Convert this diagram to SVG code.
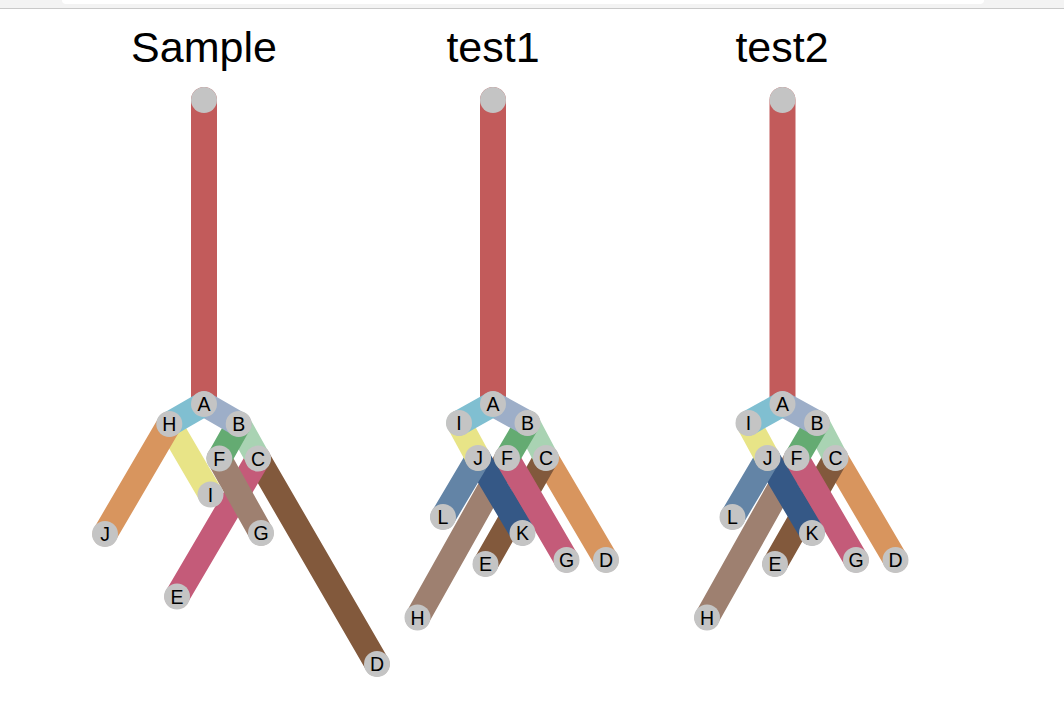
<svg xmlns="http://www.w3.org/2000/svg" width="1064" height="701" viewBox="0 0 1064 701">
<defs>
<style>
.title{font-family:"Liberation Sans",Arial,sans-serif;font-size:43px;fill:#000;text-anchor:middle}
.lbl{font-family:"Liberation Sans",Arial,sans-serif;font-size:19.5px;fill:#000;text-anchor:middle;dominant-baseline:central}
.node circle{fill:#c4c4c4}
.lk{fill:none;stroke-width:25;stroke-linecap:round}
.stem{stroke:#c25b5b;stroke-width:26}
.c-blue{stroke:#80bfd1}
.c-lav{stroke:#9daec8}
.c-orange{stroke:#d8955e}
.c-yellow{stroke:#e8e487}
.c-green{stroke:#64ab72}
.c-lgreen{stroke:#a9d3b3}
.c-taupe{stroke:#9e8070}
.c-pink{stroke:#c45b79}
.c-brown{stroke:#82593c}
.c-steel{stroke:#6384a6}
.c-dblue{stroke:#355886}
</style>
</defs>
<rect x="0" y="0" width="1064" height="701" fill="#ffffff"/>
<g id="browser-bar">
<rect x="0" y="0" width="1064" height="8" fill="#f3f3f3"/>
<rect x="62" y="-6" width="922" height="10" rx="4" fill="#ffffff"/>
<line x1="0" y1="8.5" x2="1064" y2="8.5" stroke="#c9c9c9" stroke-width="1"/>
</g>

<text class="title" x="204" y="62">Sample</text>
<text class="title" x="493" y="62">test1</text>
<text class="title" x="782" y="62">test2</text>

<!-- Sample tree -->
<g id="sample" transform="translate(204,404)">
<g id="sample-connectors">
<line class="lk stem" x1="0" y1="-304" x2="0" y2="0"/>
<line class="lk c-brown" x1="54" y1="54.5" x2="173" y2="260"/>
<line class="lk c-pink" x1="54" y1="54.5" x2="-27" y2="192.5"/>
<line class="lk c-taupe" x1="15.3" y1="54.5" x2="57" y2="129"/>
<line class="lk c-lgreen" x1="34.7" y1="20" x2="54" y2="54.5"/>
<line class="lk c-green" x1="34.7" y1="20" x2="15.3" y2="54.5"/>
<line class="lk c-yellow" x1="-34.7" y1="20" x2="6.5" y2="90.5"/>
<line class="lk c-orange" x1="-34.7" y1="20" x2="-99" y2="130"/>
<line class="lk c-lav" x1="0" y1="0" x2="34.7" y2="20"/>
<line class="lk c-blue" x1="0" y1="0" x2="-34.7" y2="20"/>
</g>
<g id="sample-root" class="node"><circle cx="0" cy="-304" r="13"/></g>
<g id="sample-A" class="node"><circle cx="0" cy="0" r="13"/><text class="lbl" x="0" y="0">A</text></g>
<g id="sample-H" class="node"><circle cx="-34.7" cy="20" r="13"/><text class="lbl" x="-34.7" y="20">H</text></g>
<g id="sample-B" class="node"><circle cx="34.7" cy="20" r="13"/><text class="lbl" x="34.7" y="20">B</text></g>
<g id="sample-F" class="node"><circle cx="15.3" cy="54.5" r="13"/><text class="lbl" x="15.3" y="54.5">F</text></g>
<g id="sample-C" class="node"><circle cx="54" cy="54.5" r="13"/><text class="lbl" x="54" y="54.5">C</text></g>
<g id="sample-I" class="node"><circle cx="6.5" cy="90.5" r="13"/><text class="lbl" x="6.5" y="90.5">I</text></g>
<g id="sample-J" class="node"><circle cx="-99" cy="130" r="13"/><text class="lbl" x="-99" y="130">J</text></g>
<g id="sample-G" class="node"><circle cx="57" cy="129" r="13"/><text class="lbl" x="57" y="129">G</text></g>
<g id="sample-E" class="node"><circle cx="-27" cy="192.5" r="13"/><text class="lbl" x="-27" y="192.5">E</text></g>
<g id="sample-D" class="node"><circle cx="173" cy="260" r="13"/><text class="lbl" x="173" y="260">D</text></g>
</g>

<!-- test1 tree -->
<g id="test1" transform="translate(493,404)">
<g id="test1-connectors">
<line class="lk stem" x1="0" y1="-304" x2="0" y2="0"/>
<line class="lk c-orange" x1="53" y1="54" x2="113" y2="156"/>
<line class="lk c-brown" x1="53" y1="54" x2="-7.5" y2="160"/>
<line class="lk c-taupe" x1="14" y1="54" x2="-75.5" y2="213.5"/>
<line class="lk c-pink" x1="14" y1="54" x2="73.5" y2="156"/>
<line class="lk c-dblue" x1="-15" y1="54" x2="29.5" y2="129"/>
<line class="lk c-steel" x1="-15" y1="54" x2="-50" y2="113"/>
<line class="lk c-lgreen" x1="34.5" y1="19" x2="53" y2="54"/>
<line class="lk c-green" x1="34.5" y1="19" x2="14" y2="54"/>
<line class="lk c-yellow" x1="-34" y1="19" x2="-15" y2="54"/>
<line class="lk c-lav" x1="0" y1="0" x2="34.5" y2="19"/>
<line class="lk c-blue" x1="0" y1="0" x2="-34" y2="19"/>
</g>
<g id="test1-root" class="node"><circle cx="0" cy="-304" r="13"/></g>
<g id="test1-A" class="node"><circle cx="0" cy="0" r="13"/><text class="lbl" x="0" y="0">A</text></g>
<g id="test1-I" class="node"><circle cx="-34" cy="19" r="13"/><text class="lbl" x="-34" y="19">I</text></g>
<g id="test1-B" class="node"><circle cx="34.5" cy="19" r="13"/><text class="lbl" x="34.5" y="19">B</text></g>
<g id="test1-J" class="node"><circle cx="-15" cy="54" r="13"/><text class="lbl" x="-15" y="54">J</text></g>
<g id="test1-F" class="node"><circle cx="14" cy="54" r="13"/><text class="lbl" x="14" y="54">F</text></g>
<g id="test1-C" class="node"><circle cx="53" cy="54" r="13"/><text class="lbl" x="53" y="54">C</text></g>
<g id="test1-L" class="node"><circle cx="-50" cy="113" r="13"/><text class="lbl" x="-50" y="113">L</text></g>
<g id="test1-K" class="node"><circle cx="29.5" cy="129" r="13"/><text class="lbl" x="29.5" y="129">K</text></g>
<g id="test1-E" class="node"><circle cx="-7.5" cy="160" r="13"/><text class="lbl" x="-7.5" y="160">E</text></g>
<g id="test1-G" class="node"><circle cx="73.5" cy="156" r="13"/><text class="lbl" x="73.5" y="156">G</text></g>
<g id="test1-D" class="node"><circle cx="113" cy="156" r="13"/><text class="lbl" x="113" y="156">D</text></g>
<g id="test1-H" class="node"><circle cx="-75.5" cy="213.5" r="13"/><text class="lbl" x="-75.5" y="213.5">H</text></g>
</g>

<!-- test2 tree -->
<g id="test2" transform="translate(782.5,404)">
<g id="test2-connectors">
<line class="lk stem" x1="0" y1="-304" x2="0" y2="0"/>
<line class="lk c-orange" x1="53" y1="54" x2="113" y2="156"/>
<line class="lk c-brown" x1="53" y1="54" x2="-7.5" y2="160"/>
<line class="lk c-taupe" x1="14" y1="54" x2="-75.5" y2="213.5"/>
<line class="lk c-pink" x1="14" y1="54" x2="73.5" y2="156"/>
<line class="lk c-dblue" x1="-15" y1="54" x2="29.5" y2="129"/>
<line class="lk c-steel" x1="-15" y1="54" x2="-50" y2="113"/>
<line class="lk c-lgreen" x1="34.5" y1="19" x2="53" y2="54"/>
<line class="lk c-green" x1="34.5" y1="19" x2="14" y2="54"/>
<line class="lk c-yellow" x1="-34" y1="19" x2="-15" y2="54"/>
<line class="lk c-lav" x1="0" y1="0" x2="34.5" y2="19"/>
<line class="lk c-blue" x1="0" y1="0" x2="-34" y2="19"/>
</g>
<g id="test2-root" class="node"><circle cx="0" cy="-304" r="13"/></g>
<g id="test2-A" class="node"><circle cx="0" cy="0" r="13"/><text class="lbl" x="0" y="0">A</text></g>
<g id="test2-I" class="node"><circle cx="-34" cy="19" r="13"/><text class="lbl" x="-34" y="19">I</text></g>
<g id="test2-B" class="node"><circle cx="34.5" cy="19" r="13"/><text class="lbl" x="34.5" y="19">B</text></g>
<g id="test2-J" class="node"><circle cx="-15" cy="54" r="13"/><text class="lbl" x="-15" y="54">J</text></g>
<g id="test2-F" class="node"><circle cx="14" cy="54" r="13"/><text class="lbl" x="14" y="54">F</text></g>
<g id="test2-C" class="node"><circle cx="53" cy="54" r="13"/><text class="lbl" x="53" y="54">C</text></g>
<g id="test2-L" class="node"><circle cx="-50" cy="113" r="13"/><text class="lbl" x="-50" y="113">L</text></g>
<g id="test2-K" class="node"><circle cx="29.5" cy="129" r="13"/><text class="lbl" x="29.5" y="129">K</text></g>
<g id="test2-E" class="node"><circle cx="-7.5" cy="160" r="13"/><text class="lbl" x="-7.5" y="160">E</text></g>
<g id="test2-G" class="node"><circle cx="73.5" cy="156" r="13"/><text class="lbl" x="73.5" y="156">G</text></g>
<g id="test2-D" class="node"><circle cx="113" cy="156" r="13"/><text class="lbl" x="113" y="156">D</text></g>
<g id="test2-H" class="node"><circle cx="-75.5" cy="213.5" r="13"/><text class="lbl" x="-75.5" y="213.5">H</text></g>
</g>
</svg>
